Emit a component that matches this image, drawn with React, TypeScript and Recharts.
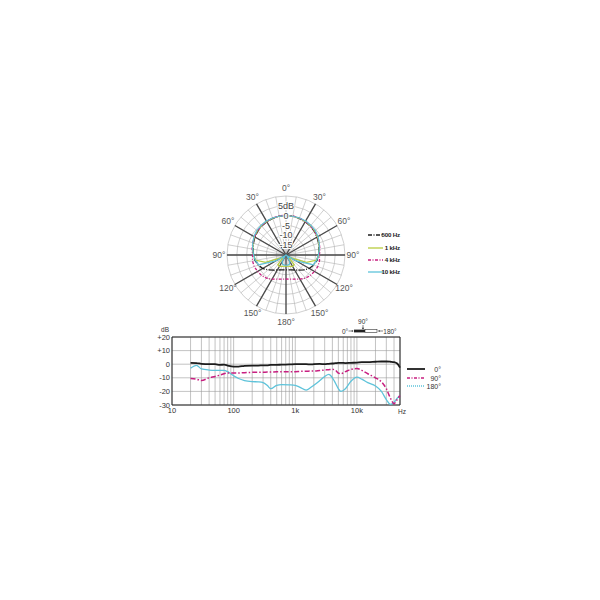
import React from 'react';
import {
  RadarChart,
  Radar,
  PolarGrid,
  PolarAngleAxis,
  PolarRadiusAxis,
  LineChart,
  Line,
  XAxis,
  YAxis,
  CartesianGrid,
  ReferenceArea,
} from 'recharts';

// polar pattern, dB relative to 0°
const angles = [0, 10, 20, 30, 40, 50, 60, 70, 80, 90, 100, 110, 120, 130, 140, 150, 160, 170, 180,
  190, 200, 210, 220, 230, 240, 250, 260, 270, 280, 290, 300, 310, 320, 330, 340, 350];
const pol500 = [0, 0, -0.2, -0.5, -0.8, -1.2, -1.8, -2.4, -3, -3.5, -4, -5, -6.3, -8.2, -10, -11.2, -11.9, -12.3, -12.4,
  -12.3, -11.9, -11.2, -10, -8.2, -6.3, -5, -4, -3.5, -3, -2.4, -1.8, -1.2, -0.8, -0.5, -0.2, 0];
const pol1k = [0, 0, -0.1, -0.3, -0.6, -1, -1.5, -2.2, -2.8, -3.3, -4.5, -9, -17, -18, -13.5, -13.3, -13.8, -14.2, -14.4,
  -14.2, -13.8, -13.3, -13.5, -18, -17, -9, -4.5, -3.3, -2.8, -2.2, -1.5, -1, -0.6, -0.3, -0.1, 0];
const pol4k = [0.2, 0.2, 0, -0.3, -0.6, -1, -1.5, -2, -2.5, -3, -2.7, -2.8, -3.3, -3.8, -4.6, -5.8, -6.9, -7.5, -7.8,
  -7.5, -6.9, -5.8, -4.6, -3.8, -3.3, -2.8, -2.7, -3, -2.5, -2, -1.5, -1, -0.6, -0.3, 0, 0.2];
const pol10k = [0, 0, 0, 0, -0.3, -0.6, -1.2, -2, -2.8, -3.5, -4.2, -5.3, -14, -19.5, -19, -16, -15, -14.8, -14.8,
  -14.8, -15, -16, -19, -19.5, -14, -5.3, -4.2, -3.5, -2.8, -2, -1.2, -0.6, -0.3, 0, 0, 0];
const radiusTicks = [-20, -15, -10, -5, 0, 5, 10];

// frequency response
const freqs = [20, 25, 30, 40, 50, 60, 70, 80, 100, 120, 150, 200, 250, 300, 350, 400, 500, 600, 800,
  1000, 1200, 1500, 1800, 2000, 2500, 3000, 3500, 4000, 4500, 5000, 5500, 6500, 8000,
  10000, 12000, 15000, 20000, 25000, 30000, 35000, 40000, 45000, 50000];
const resp0 = [1, 0.8, 0.3, 0, 0, -0.5, -0.3, -1, -1.8, -1.8, -1.2, -1, -1, -0.8, -0.8, -0.5, -0.5, -0.3, -0.2,
  0, 0, 0, -0.2, 0, 0.2, 0, 0.3, 0.5, 0.8, 1, 1, 0.8, 1,
  1.2, 1.5, 1.5, 1.8, 2, 2, 1.8, 1.5, 0.5, -2.5];
const resp90 = [-10.5, -11, -12, -10, -9, -8, -7, -6.5, -6.5, -6.5, -6.2, -6, -6, -6, -5.8, -5.8, -5.5, -5.5, -5.5,
  -5.5, -5.3, -5.2, -5, -5, -4.6, -4.3, -4, -3.8, -4.5, -6.5, -7, -5.5, -3.8,
  -3.2, -4.5, -7, -10, -13, -18, -25, -29, -26, -23];
const resp180 = [-3, -0.8, -3.5, -4.3, -4.5, -4.5, -4.5, -5.5, -8.5, -10.5, -12, -12.8, -13, -13.5, -15.5, -18, -15.5, -15, -15.2,
  -15.5, -17, -19, -17, -15.5, -12, -9, -7.5, -10, -14, -18, -20, -18, -12.5,
  -9.5, -11, -13.5, -16, -20, -26, -29.5, -28, -25, -23];
const freqGrid = [10, 20, 30, 40, 50, 60, 70, 80, 90, 100, 200, 300, 400, 500, 600, 700, 800, 900,
  1000, 2000, 3000, 4000, 5000, 6000, 7000, 8000, 9000, 10000, 20000, 30000, 40000, 50000];
const freqLabels: Record<number, string> = { 10: '10', 100: '100', 1000: '1k', 10000: '10k' };
const dbTicks = [20, 10, 0, -10, -20, -30];

const BLACK = '#1c1c1c';
const GREEN = '#b8cc3e';
const MAGENTA = '#c81f80';
const CYAN = '#5ec3da';

const polarRows = angles.map((a, i) => ({
  angle: a,
  f500: pol500[i],
  f1k: pol1k[i],
  f4k: pol4k[i],
  f10k: pol10k[i],
}));

const respRows = freqs.map((f, i) => ({ f, a0: resp0[i], a90: resp90[i], a180: resp180[i] }));

const AngleTick = (props: any) => {
  const { x, y, payload } = props;
  const v = payload.value as number;
  if (v % 30 !== 0) return <g />;
  const label = (v <= 180 ? v : 360 - v) + '°';
  return (
    <text x={x} y={y} dy="0.35em" textAnchor="middle" fontSize={8.5} fill="#555">
      {label}
    </text>
  );
};

const RadiusTick = (props: any) => {
  const { x, y, payload } = props;
  const v = payload.value as number;
  if (v <= -20 || v >= 10) return <g />;
  const label = v === 5 ? '5dB' : String(v);
  return (
    <text
      x={x}
      y={y}
      dy="0.35em"
      textAnchor="middle"
      fontSize={9}
      fill="#444"
      stroke="#fff"
      strokeWidth={2}
      paintOrder="stroke"
    >
      {label}
    </text>
  );
};

const polarLegend = [
  { name: '500 Hz', color: BLACK, dash: '4 1.5 1 1.5', y: 235 },
  { name: '1 kHz', color: GREEN, dash: undefined, y: 248 },
  { name: '4 kHz', color: MAGENTA, dash: '3 1.5 1 1.5', y: 260 },
  { name: '10 kHz', color: CYAN, dash: undefined, y: 272 },
];

const respLegend = [
  { name: '0°', color: BLACK, dash: undefined, w: 1.8, y: 369 },
  { name: '90°', color: MAGENTA, dash: '3 1.5 1 1.5', w: 1.5, y: 378 },
  { name: '180°', color: CYAN, dash: '1 1', w: 1.3, y: 386 },
];

export default function App() {
  return (
    <div
      style={{
        position: 'absolute',
        left: 0,
        top: 0,
        width: 600,
        height: 600,
        background: '#fff',
        fontFamily: '"Liberation Sans", Arial, sans-serif',
      }}
    >
      {/* polar pattern */}
      <div style={{ position: 'absolute', left: 186, top: 175 }}>
        <RadarChart
          width={200}
          height={160}
          cx={100}
          cy={80}
          outerRadius={59}
          data={polarRows}
          margin={{ top: 0, right: 0, bottom: 0, left: 0 }}
        >
          <PolarGrid gridType="circle" stroke="#b0b0b0" strokeWidth={0.6} />
          <PolarGrid
            gridType="circle"
            polarRadius={[]}
            polarAngles={[0, 30, 60, 120, 150, 180, 210, 240, 270, 300, 330]}
            stroke="#4a4a4a"
            strokeWidth={1.3}
          />
          <PolarAngleAxis dataKey="angle" tick={<AngleTick />} tickLine={false} axisLine={false} />
          <PolarRadiusAxis
            angle={90}
            domain={[-20, 10]}
            ticks={radiusTicks}
            tickCount={7}
            tick={<RadiusTick />}
            axisLine={false}
          />
          <Radar dataKey="f500" stroke={BLACK} strokeWidth={1.3} strokeDasharray="6 1.5 1 1.5" fill="none" fillOpacity={0} dot={false} isAnimationActive={false} />
          <Radar dataKey="f1k" stroke={GREEN} strokeWidth={1.2} fill="none" fillOpacity={0} dot={false} isAnimationActive={false} />
          <Radar dataKey="f4k" stroke={MAGENTA} strokeWidth={1.3} strokeDasharray="3 1.5 1 1.5" fill="none" fillOpacity={0} dot={false} isAnimationActive={false} />
          <Radar dataKey="f10k" stroke={CYAN} strokeWidth={1.2} fill="none" fillOpacity={0} dot={false} isAnimationActive={false} />
        </RadarChart>
      </div>

      {/* frequency response */}
      <div style={{ position: 'absolute', left: 130, top: 320 }}>
        <LineChart
          width={300}
          height={110}
          data={respRows}
          margin={{ top: 17, right: 30, bottom: 10, left: 12 }}
        >
          <CartesianGrid stroke="#9a9a9a" strokeWidth={0.6} />
          <XAxis
            dataKey="f"
            type="number"
            scale="log"
            domain={[10, 50000]}
            ticks={freqGrid}
            interval={0}
            tickFormatter={(v: number) => freqLabels[v] ?? ''}
            tick={{ fontSize: 7.5, fill: '#333' }}
            tickLine={false}
            tickSize={0}
            tickMargin={3}
            axisLine={false}
            height={15}
          />
          <YAxis
            type="number"
            domain={[-30, 20]}
            ticks={dbTicks}
            interval={0}
            tickFormatter={(v: number) => (v > 0 ? '+' + v : String(v))}
            tick={{ fontSize: 7.5, fill: '#333' }}
            tickLine={false}
            tickSize={0}
            tickMargin={2}
            axisLine={false}
            width={30}
          />
          <ReferenceArea x1={10} x2={50000} y1={-30} y2={20} fill="none" stroke="#222" strokeWidth={1} />
          <Line dataKey="a180" type="monotone" stroke={CYAN} strokeWidth={1.3} dot={false} isAnimationActive={false} />
          <Line dataKey="a90" type="monotone" stroke={MAGENTA} strokeWidth={1.5} strokeDasharray="5 2 1.5 2" dot={false} isAnimationActive={false} />
          <Line dataKey="a0" type="monotone" stroke={BLACK} strokeWidth={1.8} dot={false} isAnimationActive={false} />
        </LineChart>
      </div>

      {/* legends and annotations */}
      <svg width={600} height={600} style={{ position: 'absolute', left: 0, top: 0, pointerEvents: 'none' }}>
        {polarLegend.map((it) => (
          <g key={it.name}>
            <line x1={368} x2={383} y1={it.y} y2={it.y} stroke={it.color} strokeWidth={1.3} strokeDasharray={it.dash} />
            <text x={400} y={it.y + 2.2} textAnchor="end" fontSize={6.2} fontWeight={600} letterSpacing={-0.2} fill="#222">
              {it.name}
            </text>
          </g>
        ))}
        {respLegend.map((it) => (
          <g key={it.name}>
            <line x1={407} x2={425} y1={it.y} y2={it.y} stroke={it.color} strokeWidth={it.w} strokeDasharray={it.dash} />
            <text x={441} y={it.y + 2.5} textAnchor="end" fontSize={7} fill="#333">
              {it.name}
            </text>
          </g>
        ))}
        <text x={165} y={332} textAnchor="middle" fontSize={6.5} fill="#333">dB</text>
        <text x={402} y={414} textAnchor="middle" fontSize={6.5} fill="#333">Hz</text>

        <text x={363} y={324} textAnchor="middle" fontSize={6.5} fill="#333">90°</text>
        <line x1={363} x2={363} y1={325} y2={329} stroke="#333" strokeWidth={0.6} />
        <path d="M361.8,327.8 L363,329.6 L364.2,327.8 Z" fill="#333" />
        <text x={345} y={333.5} textAnchor="middle" fontSize={6.5} fill="#333">0°</text>
        <line x1={348.5} x2={352.5} y1={331} y2={331} stroke="#333" strokeWidth={0.6} />
        <path d="M351.8,329.9 L353.6,331 L351.8,332.1 Z" fill="#333" />
        <rect x={354} y={329.6} width={11} height={2.8} fill="#222" />
        <rect x={365} y={329.6} width={12} height={2.8} fill="#fff" stroke="#333" strokeWidth={0.6} />
        <line x1={379} x2={383} y1={331} y2={331} stroke="#333" strokeWidth={0.6} />
        <path d="M379.6,329.9 L377.8,331 L379.6,332.1 Z" fill="#333" />
        <text x={390} y={333.5} textAnchor="middle" fontSize={6.5} fill="#333">180°</text>
      </svg>
    </div>
  );
}
